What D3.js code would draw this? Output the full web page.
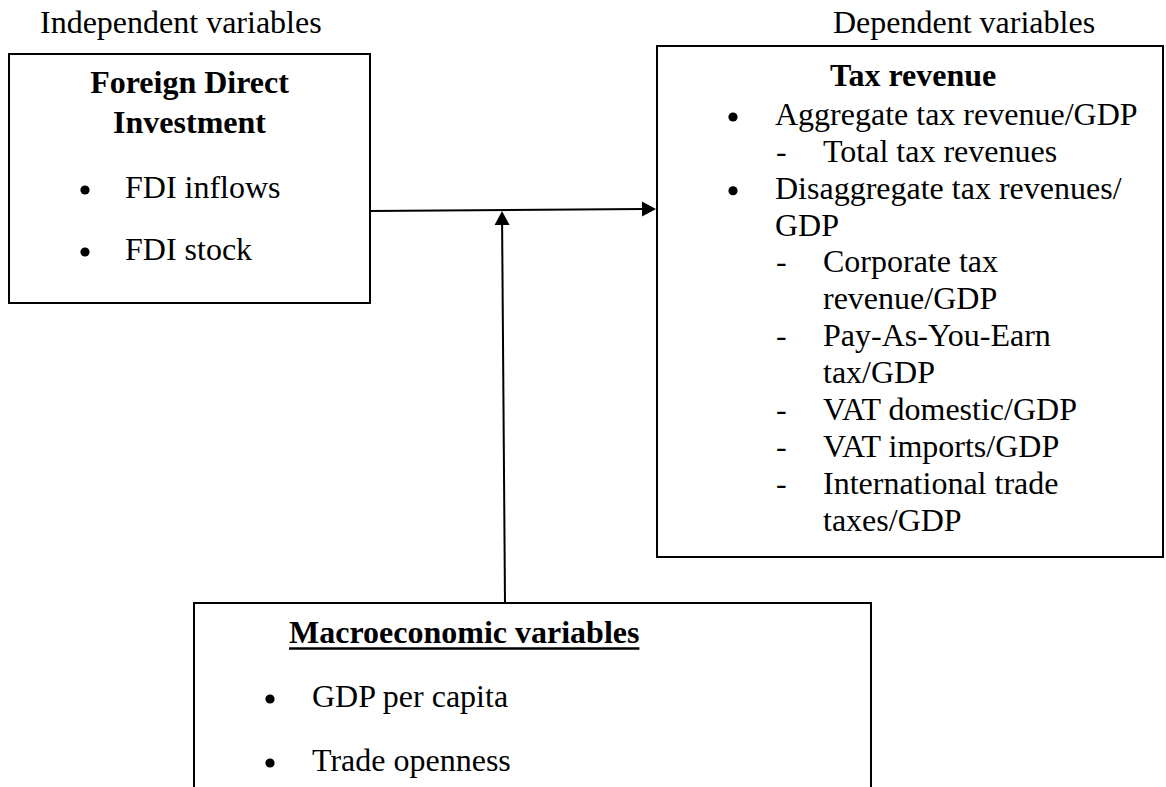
<!DOCTYPE html>
<html>
<head>
<meta charset="utf-8">
<script src="https://cdn.jsdelivr.net/npm/d3@7"></script>
<style>
  html, body { margin: 0; padding: 0; background: #fff; }
  svg { display: block; }
  text { font-family: "Liberation Serif", "Times New Roman", serif; fill: #000; }
</style>
</head>
<body>
<svg id="svg" width="1166" height="787"></svg>
<script>
"use strict";

// text content of the diagram
const headers = ["Independent variables", "Dependent variables"];
const fdiTitle = ["Foreign Direct", "Investment"];
const fdiItems = ["FDI inflows", "FDI stock"];
const taxTitle = "Tax revenue";
const taxLevels = [1, 2, 1, 1, 2, 2, 2, 2, 2, 2, 2, 2];
const taxMarks = [true, true, true, false, true, false, true, false, true, true, true, false];
const taxLines = [
    "Aggregate tax revenue/GDP",
    "Total tax revenues",
    "Disaggregate tax revenues/",
    "GDP",
    "Corporate tax",
    "revenue/GDP",
    "Pay-As-You-Earn",
    "tax/GDP",
    "VAT domestic/GDP",
    "VAT imports/GDP",
    "International trade",
    "taxes/GDP"
];
const macroTitle = "Macroeconomic variables";
const macroItems = ["GDP per capita", "Trade openness"];

// layout
const fontSize = 32;
const stroke = 2;

var svg = d3.select("svg");

function label(g, x, y, str, opts)
{
    opts = opts || {};
    return g.append("text")
        .attr("x", x)
        .attr("y", y)
        .attr("text-anchor", opts.anchor || "start")
        .attr("font-weight", opts.bold ? "bold" : "normal")
        .attr("font-size", fontSize)
        .text(str);
}

function bullet(g, x, y)
{
    g.append("circle")
        .attr("cx", x)
        .attr("cy", y - 8)
        .attr("r", 4.6)
        .attr("fill", "#000");
}

function box(x0, y0, x1, y1)
{
    svg.append("rect")
        .attr("x", x0)
        .attr("y", y0)
        .attr("width", x1 - x0)
        .attr("height", y1 - y0)
        .attr("fill", "none")
        .attr("stroke", "#000")
        .attr("stroke-width", stroke);
}

// headings above the boxes
var head = svg.append("g");
label(head, 40, 33, headers[0]);
label(head, 833, 33, headers[1]);

// left box: FDI
box(9, 54, 370, 303);
var fdi = svg.append("g");
var fdiY = d3.scaleLinear().domain([0, 1]).range([93, 133]);
fdiTitle.forEach((t, i) => label(fdi, 189.5, fdiY(i), t, { anchor: "middle", bold: true }));
var fdiItemY = d3.scaleLinear().domain([0, 1]).range([198, 260]);
fdiItems.forEach((t, i) => {
    bullet(fdi, 85, fdiItemY(i));
    label(fdi, 125, fdiItemY(i), t);
});

// right box: tax revenue
box(657, 46, 1163, 557);
var tax = svg.append("g");
label(tax, 830, 86, taxTitle, { bold: true });
var taxY = d3.scaleLinear().domain([0, taxLines.length - 1]).range([125, 530.5]);
var indent = { 1: { mark: 733, text: 775 }, 2: { mark: 776, text: 823 } };
taxLines.forEach((t, i) => {
    var lv = indent[taxLevels[i]];
    var y = taxY(i);
    if (taxMarks[i]) {
        if (taxLevels[i] === 1) bullet(tax, lv.mark, y);
        else label(tax, lv.mark, y, "-");
    }
    label(tax, lv.text, y, t);
});

// bottom box: macro variables
box(194, 603, 871, 810);
var macro = svg.append("g");
var mt = label(macro, 289, 643, macroTitle, { bold: true });
var mw = mt.node().getComputedTextLength();
macro.append("line")
    .attr("x1", 289).attr("x2", 289 + mw)
    .attr("y1", 648.5).attr("y2", 648.5)
    .attr("stroke", "#000").attr("stroke-width", 2.5);
var macroY = d3.scaleLinear().domain([0, 1]).range([707, 771]);
macroItems.forEach((t, i) => {
    bullet(macro, 270, macroY(i));
    label(macro, 312, macroY(i), t);
});

// arrows
function arrow(x1, y1, x2, y2)
{
    var len = Math.hypot(x2 - x1, y2 - y1);
    var ux = (x2 - x1) / len, uy = (y2 - y1) / len;
    var headLen = 14, headW = 7.5;
    var bx = x2 - ux * headLen, by = y2 - uy * headLen;
    svg.append("line")
        .attr("x1", x1).attr("y1", y1)
        .attr("x2", bx + ux).attr("y2", by + uy)
        .attr("stroke", "#000").attr("stroke-width", stroke);
    svg.append("path")
        .attr("d", d3.line()([
            [x2, y2],
            [bx - uy * headW, by + ux * headW],
            [bx + uy * headW, by - ux * headW]
        ]) + "Z")
        .attr("fill", "#000");
}

arrow(370, 211, 656, 209);
arrow(505, 603, 502, 211);
</script>
</body>
</html>
